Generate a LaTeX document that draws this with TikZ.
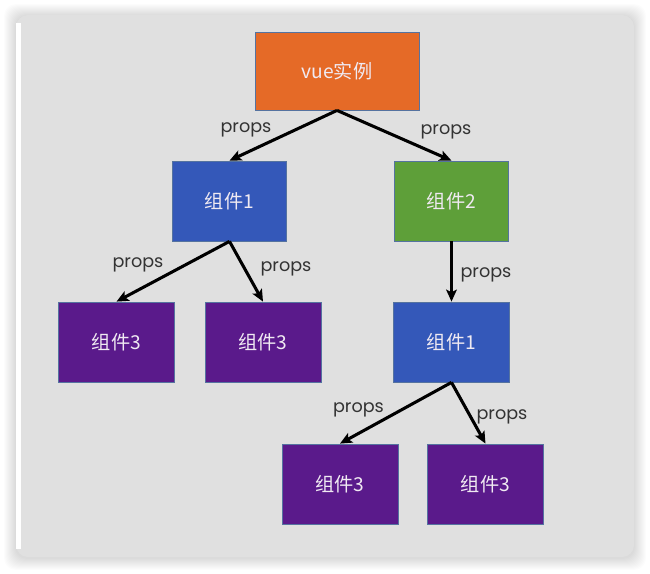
\documentclass[tikz,border=0pt]{standalone}
\usepackage{fontspec}
\setmainfont{Poppins}
\newfontfamily\cjkfont{Noto Sans CJK SC}
\usetikzlibrary{arrows.meta}
\definecolor{panelgray}{HTML}{E0E0E0}
\definecolor{boxorange}{HTML}{E56A27}
\definecolor{boxblue}{HTML}{3458B9}
\definecolor{boxgreen}{HTML}{5E9F39}
\definecolor{boxpurple}{HTML}{5A1A8B}
\definecolor{boxline}{HTML}{5573A0}
\definecolor{boxtext}{HTML}{F0EAF2}
\definecolor{labeltext}{HTML}{333333}
\tikzset{
  compbox/.style={rectangle, draw=boxline, line width=0.6pt, minimum height=60pt,
    minimum width=86pt, text=boxtext, inner sep=0pt,
    font=\cjkfont\fontsize{14.4}{16}\selectfont},
  propslabel/.style={anchor=mid, text=labeltext, inner sep=0pt,
    font=\fontsize{13.2}{15}\selectfont},
  flow/.style={line width=2.3pt, -{Stealth[length=9pt,width=8pt,inset=2pt]}},
}
\begin{document}
\begin{tikzpicture}[x=0.75pt,y=-0.75pt]
\useasboundingbox (0,0) rectangle (650,574);
\fill[white] (0,0) rectangle (650,574);
% soft shadow
\foreach \r in {12,11,...,1}{
  \fill[black,opacity=0.012,rounded corners=9] ({16-\r},{15-\r+1}) rectangle ({634+\r},{557+\r+1});
}
% panel
\fill[panelgray,rounded corners=9] (16,15) rectangle (634,557);
\fill[white] (16,23) rectangle (21,549);

\node[compbox, fill=boxorange, minimum width=123pt, minimum height=58.5pt] (vue) at (337,71) {vue实例};
\node[compbox, fill=boxblue] (c1) at (229.5,201) {组件1};
\node[compbox, fill=boxgreen] (c2) at (451.5,201) {组件2};
\node[compbox, fill=boxpurple, minimum width=87.5pt] (a3) at (116.5,342) {组件3};
\node[compbox, fill=boxpurple, minimum width=87pt] (b3) at (263,342) {组件3};
\node[compbox, fill=boxblue, minimum width=86.5pt] (d1) at (451.5,342) {组件1};
\node[compbox, fill=boxpurple, minimum width=87pt] (e3) at (340,484) {组件3};
\node[compbox, fill=boxpurple, minimum width=86.5pt] (f3) at (485.5,484) {组件3};

\draw[flow] (vue.south) -- (c1.north);
\draw[flow] (vue.south) -- (c2.north);
\draw[flow] (c1.south) -- (a3.north);
\draw[flow] (c1.south) -- (b3.north);
\draw[flow] (c2.south) -- (d1.north);
\draw[flow] (d1.south) -- (e3.north);
\draw[flow] (d1.south) -- (f3.north);

\node[propslabel] (p1) at (246,129) {props};
\node[propslabel] (p2) at (446,131) {props};
\node[propslabel] (p3) at (138,264) {props};
\node[propslabel] (p4) at (286,268) {props};
\node[propslabel] (p5) at (486,274) {props};
\node[propslabel] (p6) at (358.5,409) {props};
\node[propslabel] (p7) at (502,416) {props};
\end{tikzpicture}
\end{document}
